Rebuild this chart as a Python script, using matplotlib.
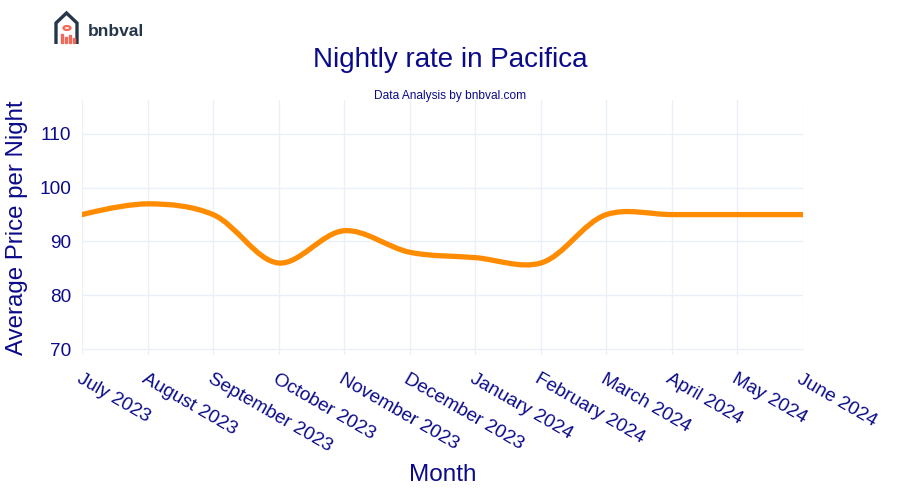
import numpy as np
import matplotlib
matplotlib.use("Agg")
import matplotlib.pyplot as plt
from matplotlib.path import Path
from matplotlib.patches import PathPatch, Rectangle, Circle

plt.rcParams['font.family'] = ['Liberation Sans', 'DejaVu Sans']

months = ["July 2023", "August 2023", "September 2023", "October 2023",
          "November 2023", "December 2023", "January 2024", "February 2024",
          "March 2024", "April 2024", "May 2024", "June 2024"]
price = [95, 97, 95, 86, 92, 88, 87, 86, 95, 95, 95, 95]

navy = "#0b0b8a"
orange = "#ff8c00"
gridc = "#ebf0f8"

fig = plt.figure(figsize=(9, 5), dpi=100)
ax = fig.add_axes([82/900, 1-355/500, (803-82)/900, (355-100)/500])
x = np.arange(len(months))
ax.set_xlim(0, len(months)-1)
ax.set_ylim(68.9, 116.3)


def tangent(p0, p1, p2, s=1.0):  # plotly spline, pixel space
    d1 = p0 - p1
    d2 = p2 - p1
    d1a = np.hypot(*d1) ** 0.5
    d2a = np.hypot(*d2) ** 0.5
    num = (d2a*d2a*d1 - d1a*d1a*d2) * s
    den1 = 3*d2a*(d1a+d2a)
    den2 = 3*d1a*(d1a+d2a)
    return p1 + (num/den1 if den1 else 0), p1 - (num/den2 if den2 else 0)


pts = ax.transData.transform(np.column_stack([x, price]))
tg = [tangent(pts[i-1], pts[i], pts[i+1]) for i in range(1, len(pts)-1)]
verts = [pts[0], tg[0][0], pts[1]]
codes = [Path.MOVETO, Path.CURVE3, Path.CURVE3]
for i in range(2, len(pts)-1):
    verts += [tg[i-2][1], tg[i-1][0], pts[i]]
    codes += [Path.CURVE4]*3
verts += [tg[-1][1], pts[-1]]
codes += [Path.CURVE3]*2
verts = ax.transData.inverted().transform(np.array(verts))
ax.add_patch(PathPatch(Path(verts, codes), fill=False, edgecolor=orange,
                       lw=3.8, capstyle='round', joinstyle='round', zorder=3))

ax.set_yticks([70, 80, 90, 100, 110])
ax.set_xticks(x)
ax.set_xticklabels(months, rotation=-30, ha='left', va='top',
                   rotation_mode='anchor')
ax.tick_params(axis='both', length=0, labelsize=13.7, colors=navy)
ax.tick_params(axis='x', pad=11)
ax.tick_params(axis='y', pad=8)
ax.grid(True, color=gridc, lw=1)
ax.set_axisbelow(True)
for sp in ax.spines.values():
    sp.set_visible(False)

ax.set_xlabel("Month", fontsize=17.5, color=navy, labelpad=6)
ax.set_ylabel("Average Price per Night", fontsize=17.3, color=navy, labelpad=8)

fig.text(0.5, 1-60/500, "Nightly rate in Pacifica", ha='center', va='center',
         fontsize=20, color=navy)
fig.text(0.5, 1-96/500, "Data Analysis by bnbval.com", ha='center',
         va='center', fontsize=8.6, color=navy)

# logo
dark = "#26364a"
red = "#f06a5a"
house = Path([(56, 44), (56, 23), (66.5, 13), (77, 23), (77, 44)],
             [Path.MOVETO] + [Path.LINETO]*4)
house = Path(np.column_stack([house.vertices[:, 0]/900,
                              1-house.vertices[:, 1]/500]), house.codes)
fig.patches.append(PathPatch(house, fill=False, edgecolor=dark, lw=2.4,
                             transform=fig.transFigure, figure=fig))
for bx, bh in [(60.5, 9), (64.5, 6), (68.5, 8), (72.5, 5)]:
    fig.patches.append(Rectangle((bx/900, 1-43/500), 2.5/900, bh/500,
                                 color=red, transform=fig.transFigure,
                                 figure=fig))
fig.patches.append(Circle((67/900, 1-28/500), 3.5/900, fill=False,
                          edgecolor=red, lw=1.6, transform=fig.transFigure,
                          figure=fig))
fig.text(88/900, 1-31/500, "bnbval", ha='left', va='center', fontsize=12.5,
         fontweight='bold', color=dark)

fig.savefig("out.png", dpi=100, facecolor='white')
